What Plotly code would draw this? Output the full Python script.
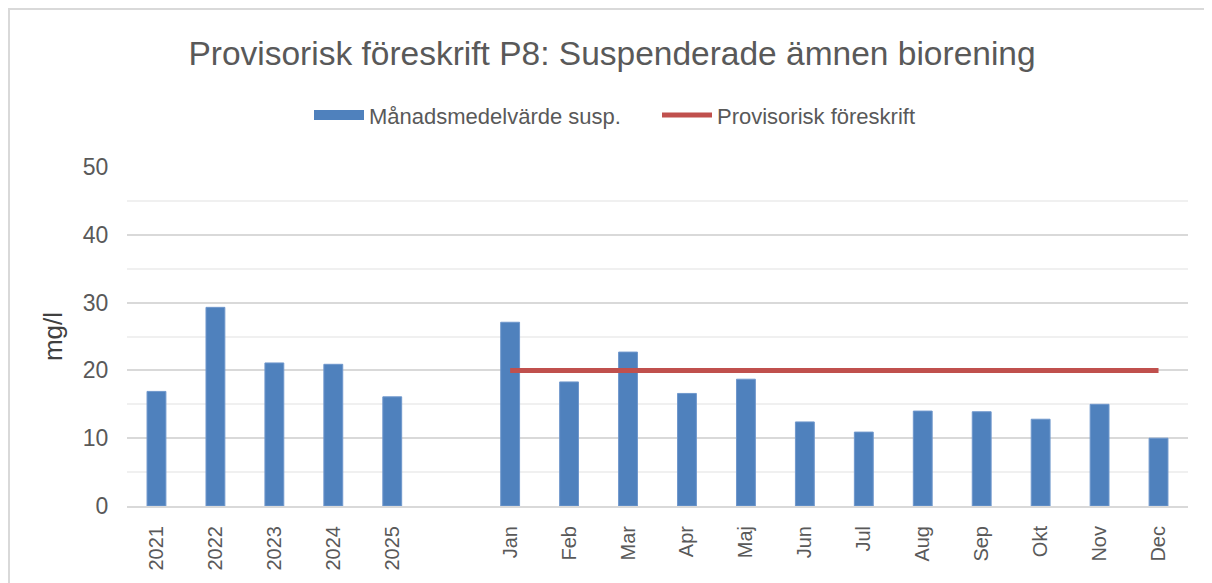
import plotly.graph_objects as go

years = ["2021", "2022", "2023", "2024", "2025"]
year_values = [16.9, 29.3, 21.1, 20.9, 16.1]

months = ["Jan", "Feb", "Mar", "Apr", "Maj", "Jun", "Jul", "Aug", "Sep", "Okt", "Nov", "Dec"]
month_values = [27.1, 18.3, 22.7, 16.6, 18.7, 12.4, 10.9, 14.0, 13.9, 12.8, 15.0, 10.0]

limit_values = [20, 20, 20, 20, 20, 20, 20, 20, 20, 20, 20, 20]

spacer = [" "]
category_order = years + spacer + months

bar_name = "Månadsmedelvärde susp."
line_name = "Provisorisk föreskrift"
title_text = "Provisorisk föreskrift P8: Suspenderade ämnen biorening"
y_title = "mg/l"

FONT = "Liberation Sans"
GREY = "#595959"
BLUE = "#4f81bd"
RED = "#c0504d"

# page body has an 8px margin, so figure coords = screen coords - 8
W, H = 1204, 575
OFF = 8
L, T = 127 - OFF, 167 - OFF
R, B = W - (1188 - OFF), H - (508 - OFF)
pw, ph = W - L - R, H - T - B

fig = go.Figure()
fig.add_trace(go.Bar(
    x=years + months,
    y=year_values + month_values,
    name=bar_name,
    showlegend=False,
    marker=dict(color=BLUE, line=dict(color="#6f97cc", width=1)),
))
# legend entry for the bars, drawn as a wide block like the original
fig.add_trace(go.Scatter(
    x=[None], y=[None], name=bar_name, mode="lines",
    line=dict(color=BLUE, width=12), hoverinfo="skip",
))
fig.add_trace(go.Scatter(
    x=months,
    y=limit_values,
    name=line_name,
    mode="lines",
    line=dict(color=RED, width=5),
))

fig.update_layout(
    width=W, height=H,
    margin=dict(l=L, r=R, t=T, b=B),
    paper_bgcolor="white", plot_bgcolor="white",
    bargap=0.68,
    showlegend=True,
    title=dict(text=title_text, x=(612 - OFF) / W, xanchor="center", y=1 - (53 - OFF) / H, yanchor="middle",
               font=dict(family=FONT, size=33.5, color=GREY)),
    legend=dict(orientation="h", x=(309 - OFF - L) / pw, xanchor="left", y=1 + (167 - 115) / ph, yanchor="middle",
                font=dict(family=FONT, size=22, color=GREY), itemwidth=50, entrywidth=283,
                traceorder="normal"),
    xaxis=dict(type="category", categoryorder="array", categoryarray=category_order,
               tickangle=-90, tickfont=dict(family=FONT, size=20, color=GREY),
               ticks="outside", ticklen=10, tickcolor="rgba(0,0,0,0)",
               showgrid=False, showline=True, linecolor="#d9d9d9", linewidth=2),
    yaxis=dict(range=[0, 50], dtick=10, tickfont=dict(family=FONT, size=23, color=GREY),
               ticks="outside", ticklen=13, tickcolor="rgba(0,0,0,0)",
               showgrid=True, gridcolor="#d9d9d9", gridwidth=2,
               minor=dict(dtick=5, showgrid=True, gridcolor="#f0f0f0", gridwidth=2),
               zeroline=False,
               title=dict(text=y_title, font=dict(family=FONT, size=26, color="#404040"), standoff=12)),
    shapes=[dict(type="rect", xref="paper", yref="paper",
                 x0=(1 - L) / pw, x1=1.2, y0=-0.6, y1=1 + (T - 0) / ph,
                 line=dict(color="#d9d9d9", width=2), fillcolor="rgba(0,0,0,0)", layer="below")],
)

fig.write_html("out.html")
